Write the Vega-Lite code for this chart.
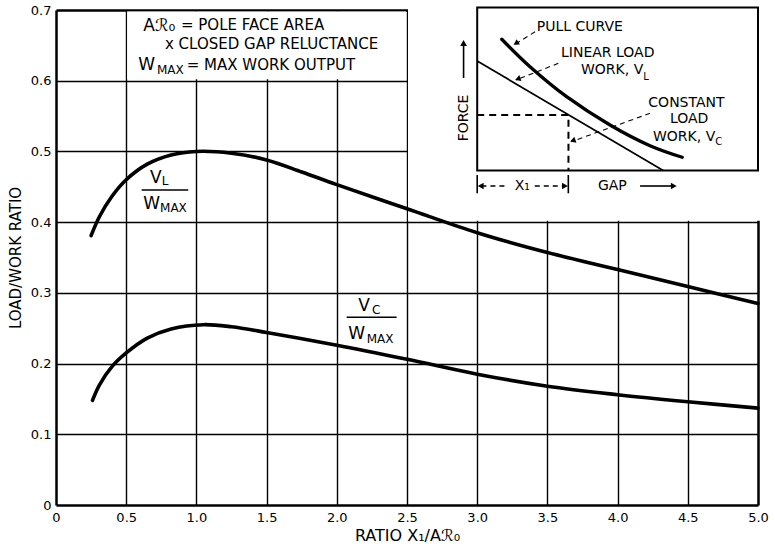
{
  "$schema": "https://vega.github.io/schema/vega-lite/v6.json",
  "width": 702,
  "height": 495,
  "autosize": "none",
  "padding": {"left": 56, "top": 10, "right": 17, "bottom": 45},
  "background": "white",
  "config": {
    "view": {"stroke": null},
    "font": "DejaVu Sans",
    "text": {"font": "DejaVu Sans", "color": "black", "align": "left", "baseline": "middle"}
  },
  "datasets": {
    "curves": [
      {"series": "VL", "x": 0.25, "y": 0.381},
      {"series": "VL", "x": 0.31, "y": 0.408},
      {"series": "VL", "x": 0.4, "y": 0.437},
      {"series": "VL", "x": 0.5, "y": 0.46},
      {"series": "VL", "x": 0.65, "y": 0.482},
      {"series": "VL", "x": 0.82, "y": 0.495},
      {"series": "VL", "x": 1.0, "y": 0.5},
      {"series": "VL", "x": 1.25, "y": 0.4975},
      {"series": "VL", "x": 1.5, "y": 0.488},
      {"series": "VL", "x": 1.75, "y": 0.471},
      {"series": "VL", "x": 2.0, "y": 0.453},
      {"series": "VL", "x": 2.5, "y": 0.419},
      {"series": "VL", "x": 3.0, "y": 0.385},
      {"series": "VL", "x": 3.5, "y": 0.357},
      {"series": "VL", "x": 4.0, "y": 0.333},
      {"series": "VL", "x": 4.5, "y": 0.309},
      {"series": "VL", "x": 5.0, "y": 0.285},
      {"series": "VC", "x": 0.26, "y": 0.148},
      {"series": "VC", "x": 0.31, "y": 0.17},
      {"series": "VC", "x": 0.4, "y": 0.196},
      {"series": "VC", "x": 0.5, "y": 0.215},
      {"series": "VC", "x": 0.65, "y": 0.236},
      {"series": "VC", "x": 0.82, "y": 0.249},
      {"series": "VC", "x": 1.05, "y": 0.255},
      {"series": "VC", "x": 1.25, "y": 0.252},
      {"series": "VC", "x": 1.5, "y": 0.244},
      {"series": "VC", "x": 2.0, "y": 0.226},
      {"series": "VC", "x": 2.5, "y": 0.206},
      {"series": "VC", "x": 3.0, "y": 0.185},
      {"series": "VC", "x": 3.5, "y": 0.168},
      {"series": "VC", "x": 4.0, "y": 0.156},
      {"series": "VC", "x": 4.5, "y": 0.146},
      {"series": "VC", "x": 5.0, "y": 0.137}
    ],
    "masks": [
      {"x": 0.507, "x2": 2.493, "y": 0.602, "y2": 0.698},
      {"x": 2.507, "x2": 5.06, "y": 0.402, "y2": 0.72}
    ],
    "insetbox": [{"x": 3.0, "x2": 5.0, "y": 0.473, "y2": 0.7035}],
    "pull": [
      {"x": 3.175, "y": 0.6586},
      {"x": 3.376, "y": 0.6198},
      {"x": 3.637, "y": 0.5774},
      {"x": 3.946, "y": 0.5374},
      {"x": 4.231, "y": 0.5081},
      {"x": 4.46, "y": 0.4917}
    ],
    "linear": [{"x": 3.0, "y": 0.6278}, {"x": 4.325, "y": 0.473}],
    "xdash": [
      {"x": 3.0, "y": 0.5515, "o": 1},
      {"x": 3.65, "y": 0.5515, "o": 2},
      {"x": 3.65, "y": 0.473, "o": 3}
    ],
    "leaders": [
      {"id": 1, "o": 1, "x": 3.412, "y": 0.6693},
      {"id": 1, "o": 2, "x": 3.262, "y": 0.6505},
      {"id": 2, "o": 1, "x": 3.578, "y": 0.6246},
      {"id": 2, "o": 2, "x": 3.275, "y": 0.601},
      {"id": 3, "o": 1, "x": 4.231, "y": 0.5539},
      {"id": 3, "o": 2, "x": 3.67, "y": 0.5138}
    ],
    "rules": [
      {"x": 0.61, "x2": 0.942, "y": 0.4455, "y2": 0.4455},
      {"x": 2.07, "x2": 2.426, "y": 0.2654, "y2": 0.2654},
      {"x": 3.0, "x2": 3.0, "y": 0.4408, "y2": 0.4667},
      {"x": 3.649, "x2": 3.649, "y": 0.4408, "y2": 0.4667},
      {"x": 2.903, "x2": 2.903, "y": 0.6038, "y2": 0.6519},
      {"x": 4.16, "x2": 4.387, "y": 0.4511, "y2": 0.4511}
    ],
    "drules": [
      {"x": 3.03, "x2": 3.22, "y": 0.4511, "y2": 0.4511},
      {"x": 3.41, "x2": 3.62, "y": 0.4511, "y2": 0.4511}
    ],
    "headsRight": [{"x": 3.625, "y": 0.4511}, {"x": 4.4, "y": 0.4511}],
    "headsLeft": [{"x": 3.025, "y": 0.4511}],
    "headsUp": [{"x": 2.903, "y": 0.6533}],
    "heads148": [{"x": 3.276, "y": 0.6528}],
    "heads160": [{"x": 3.289, "y": 0.6024}, {"x": 3.681, "y": 0.5152}],
    "big": [
      {"t": "Aℛ₀", "x": 0.622, "y": 0.6777},
      {"t": "W", "x": 0.586, "y": 0.6222},
      {"t": "V", "x": 0.6695, "y": 0.4624},
      {"t": "W", "x": 0.6218, "y": 0.4257},
      {"t": "V", "x": 2.153, "y": 0.2814},
      {"t": "W", "x": 2.082, "y": 0.2418}
    ],
    "boxText": [
      {"t": "= POLE FACE AREA", "x": 0.89, "y": 0.6788},
      {"t": "x CLOSED GAP RELUCTANCE", "x": 0.776, "y": 0.6519},
      {"t": "= MAX WORK OUTPUT", "x": 0.931, "y": 0.6222}
    ],
    "subs": [
      {"t": "MAX", "x": 0.719, "y": 0.6151},
      {"t": "L", "x": 0.753, "y": 0.4582},
      {"t": "MAX", "x": 0.741, "y": 0.4207},
      {"t": "C", "x": 2.25, "y": 0.2758},
      {"t": "MAX", "x": 2.213, "y": 0.2348}
    ],
    "insetText": [
      {"t": "PULL CURVE", "x": 3.424, "y": 0.6764},
      {"t": "LINEAR LOAD", "x": 3.597, "y": 0.6387},
      {"t": "WORK, V", "x": 3.739, "y": 0.6152},
      {"t": "CONSTANT", "x": 4.219, "y": 0.568},
      {"t": "LOAD", "x": 4.373, "y": 0.5459},
      {"t": "WORK, V", "x": 4.252, "y": 0.5208},
      {"t": "GAP", "x": 3.86, "y": 0.4511},
      {"t": "X₁", "x": 3.267, "y": 0.4511}
    ],
    "insetSubs": [
      {"t": "L", "x": 4.183, "y": 0.6053},
      {"t": "C", "x": 4.696, "y": 0.5138}
    ],
    "force": [{"t": "FORCE", "x": 2.903, "y": 0.5473}]
  },
  "encoding": {
    "x": {
      "field": "x",
      "type": "quantitative",
      "scale": {"domain": [0, 5], "nice": false, "zero": false},
      "axis": {
        "title": "RATIO X₁/Aℛ₀",
        "values": [0, 0.5, 1, 1.5, 2, 2.5, 3, 3.5, 4, 4.5, 5],
        "labelExpr": "datum.value === 0 ? '0' : format(datum.value, '.1f')",
        "domain": false,
        "ticks": false,
        "labelPadding": 6,
        "labelFontSize": 13,
        "labelColor": "black",
        "labelFont": "DejaVu Sans",
        "labelFlush": false,
        "labelOverlap": false,
        "grid": true,
        "gridColor": "black",
        "gridOpacity": 1,
        "gridWidth": {"condition": {"test": "datum.value === 0 || datum.value === 5", "value": 2.5}, "value": 1.4},
        "titleFont": "DejaVu Sans",
        "titleFontSize": 16,
        "titleFontWeight": "normal",
        "titleColor": "black",
        "titlePadding": 3,
        "zindex": 0
      }
    },
    "y": {
      "field": "y",
      "type": "quantitative",
      "scale": {"domain": [0, 0.7], "nice": false, "zero": false},
      "axis": {
        "title": "LOAD/WORK RATIO",
        "values": [0, 0.1, 0.2, 0.3, 0.4, 0.5, 0.6, 0.7],
        "labelExpr": "datum.value === 0 ? '0' : format(datum.value, '.1f')",
        "domain": false,
        "ticks": false,
        "labelPadding": 5,
        "labelFontSize": 13,
        "labelColor": "black",
        "labelFont": "DejaVu Sans",
        "labelFlush": false,
        "labelOverlap": false,
        "grid": true,
        "gridColor": "black",
        "gridOpacity": 1,
        "gridWidth": {"condition": {"test": "datum.value === 0 || datum.value > 0.69", "value": 2.5}, "value": 1.4},
        "titleFont": "DejaVu Sans",
        "titleFontSize": 15,
        "titleFontWeight": "normal",
        "titleColor": "black",
        "titlePadding": 7,
        "zindex": 0
      }
    }
  },
  "layer": [
    {"data": {"name": "masks"}, "mark": {"type": "rect", "fill": "white", "strokeWidth": 0}, "encoding": {"x2": {"field": "x2"}, "y2": {"field": "y2"}}},
    {"data": {"name": "insetbox"}, "mark": {"type": "rect", "fill": "white", "stroke": "black", "strokeWidth": 2}, "encoding": {"x2": {"field": "x2"}, "y2": {"field": "y2"}}},
    {"data": {"name": "curves"}, "mark": {"type": "line", "color": "black", "strokeWidth": 3.6, "interpolate": "catmull-rom", "strokeCap": "round"}, "encoding": {"detail": {"field": "series"}}},
    {"data": {"name": "pull"}, "mark": {"type": "line", "color": "black", "strokeWidth": 3.3, "interpolate": "catmull-rom", "strokeCap": "round"}, "encoding": {}},
    {"data": {"name": "linear"}, "mark": {"type": "line", "color": "black", "strokeWidth": 1.7}, "encoding": {}},
    {"data": {"name": "xdash"}, "mark": {"type": "line", "color": "black", "strokeWidth": 2, "strokeDash": [7, 5]}, "encoding": {"order": {"field": "o"}}},
    {"data": {"name": "leaders"}, "mark": {"type": "line", "color": "black", "strokeWidth": 1.1, "strokeDash": [5, 4]}, "encoding": {"detail": {"field": "id"}, "order": {"field": "o"}}},
    {"data": {"name": "rules"}, "mark": {"type": "rule", "color": "black", "strokeWidth": 1.6}, "encoding": {"x2": {"field": "x2"}, "y2": {"field": "y2"}}},
    {"data": {"name": "drules"}, "mark": {"type": "rule", "color": "black", "strokeWidth": 1.6, "strokeDash": [5, 4]}, "encoding": {"x2": {"field": "x2"}, "y2": {"field": "y2"}}},
    {"data": {"name": "headsRight"}, "mark": {"type": "point", "shape": "triangle-right", "filled": true, "color": "black", "size": 45, "opacity": 1, "angle": 0}},
    {"data": {"name": "headsLeft"}, "mark": {"type": "point", "shape": "triangle-right", "filled": true, "color": "black", "size": 45, "opacity": 1, "angle": 180}},
    {"data": {"name": "headsUp"}, "mark": {"type": "point", "shape": "triangle-right", "filled": true, "color": "black", "size": 45, "opacity": 1, "angle": 270}},
    {"data": {"name": "heads148"}, "mark": {"type": "point", "shape": "triangle-right", "filled": true, "color": "black", "size": 40, "opacity": 1, "angle": 148}},
    {"data": {"name": "heads160"}, "mark": {"type": "point", "shape": "triangle-right", "filled": true, "color": "black", "size": 40, "opacity": 1, "angle": 160}},
    {"data": {"name": "big"}, "mark": {"type": "text", "fontSize": 17}, "encoding": {"text": {"field": "t"}}},
    {"data": {"name": "boxText"}, "mark": {"type": "text", "fontSize": 15}, "encoding": {"text": {"field": "t"}}},
    {"data": {"name": "subs"}, "mark": {"type": "text", "fontSize": 12}, "encoding": {"text": {"field": "t"}}},
    {"data": {"name": "insetText"}, "mark": {"type": "text", "fontSize": 14}, "encoding": {"text": {"field": "t"}}},
    {"data": {"name": "insetSubs"}, "mark": {"type": "text", "fontSize": 10}, "encoding": {"text": {"field": "t"}}},
    {"data": {"name": "force"}, "mark": {"type": "text", "fontSize": 14, "angle": 270, "align": "center"}, "encoding": {"text": {"field": "t"}}}
  ]
}
